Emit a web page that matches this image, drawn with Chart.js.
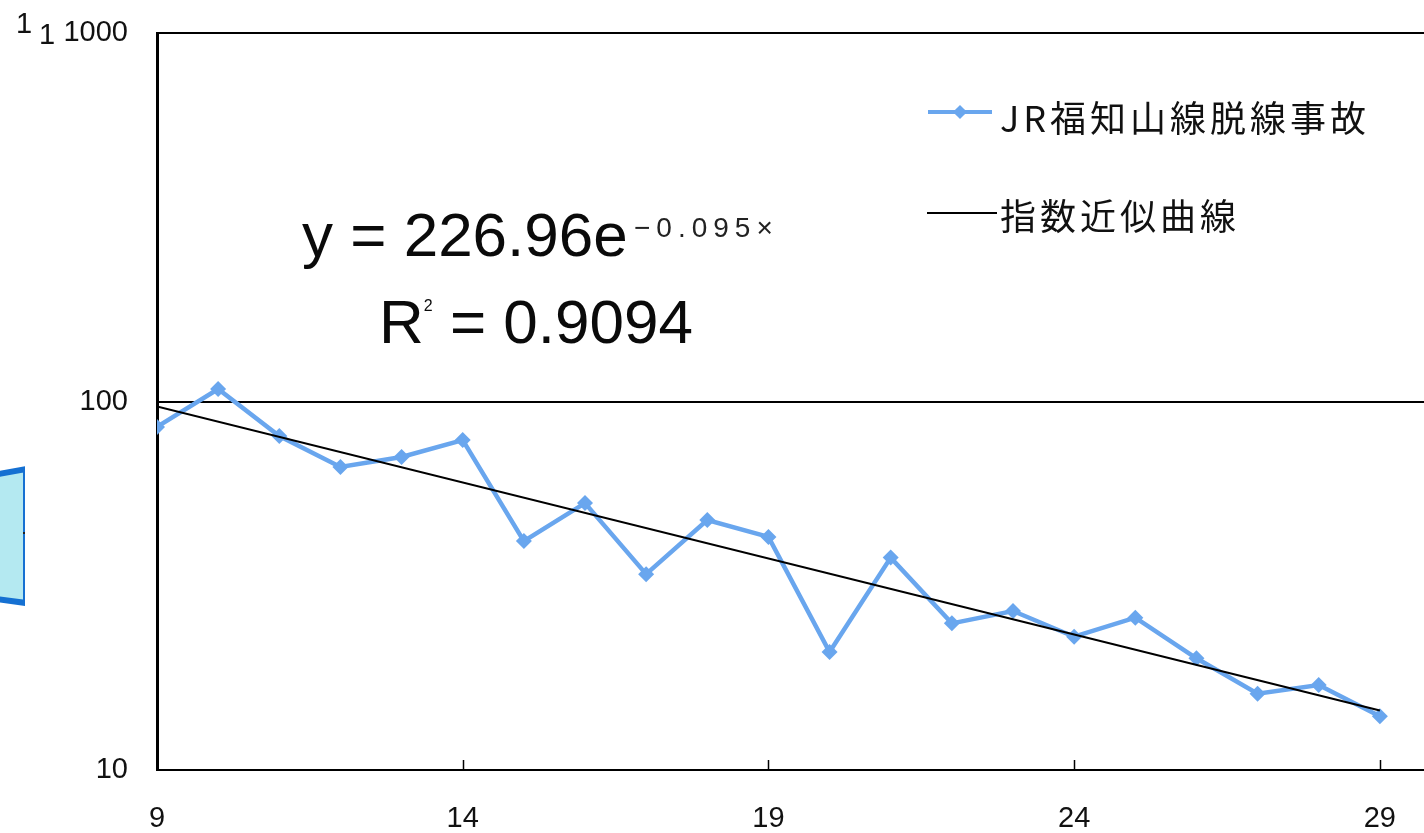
<!DOCTYPE html>
<html lang="ja">
<head>
<meta charset="utf-8">
<script src="https://cdn.jsdelivr.net/npm/chart.js@4.4.1/dist/chart.umd.min.js"></script>
<style>
  body { margin: 0; background: #fff; overflow: hidden; width: 1424px; height: 833px; position: relative; }
  #wrap { position: absolute; left: 0; top: 0; width: 1450px; height: 833px; }
  .txt { position: absolute; white-space: nowrap; color: #000; }
  .tick { font-family: 'Liberation Sans Narrow', 'Liberation Sans', sans-serif; font-size: 29px; line-height: 1; color: #111; }
  .eq { font-family: 'Liberation Sans', Arial, sans-serif; font-size: 62px; line-height: 1; color: #0a0a0a; }
  .sup { font-family: 'Liberation Sans', sans-serif; font-size: 28px; line-height: 1; letter-spacing: 6px; color: #222; }
  .leg { font-family: 'Noto Sans CJK JP', sans-serif; font-size: 36px; line-height: 1; letter-spacing: 4px; color: #111; }
</style>
</head>
<body>
<div id="wrap"><canvas id="grafico"></canvas></div>

<!-- numeri sparsi in alto a sinistra -->
<div class="txt tick" style="left:16px; top:9px;">1</div>
<div class="txt tick" style="left:39px; top:20px;">1</div>

<!-- riquadro azzurro tagliato sul bordo sinistro -->
<svg style="position:absolute; left:0; top:460px;" width="25" height="150">
  <polygon points="-40,21 26,9 26,143 -40,134" fill="#b4e9f1" stroke="#1570d2" stroke-width="6"/>
  <rect x="23" y="72" width="2" height="2" fill="#222"/>
</svg>

<!-- equazione della curva -->
<div class="txt eq" style="left:302px; top:204px;">y = 226.96e</div>
<div class="txt sup" style="left:634px; top:214px;">&minus;0.095&times;</div>
<div class="txt eq" style="left:379px; top:291px;">R<span style="font-size:16px; vertical-align:32px;">2</span> = 0.9094</div>

<!-- legenda -->
<div style="position:absolute; left:928px; top:110px; width:64px; height:4px; background:#69a6ee;"></div>
<div style="position:absolute; left:955px; top:107px; width:10px; height:10px; background:#69a6ee; transform:rotate(45deg);"></div>
<div class="txt leg" style="left:1000px; top:98px;">JR福知山線脱線事故</div>
<div style="position:absolute; left:927px; top:212px; width:70px; height:2px; background:#000;"></div>
<div class="txt leg" style="left:1000px; top:196px;">指数近似曲線</div>

<script>
// dati
const anni = [9, 10, 11, 12, 13, 14, 15, 16, 17, 18, 19, 20, 21, 22, 23, 24, 25, 26, 27, 28, 29];
const incidenti = [85.3, 108.1, 80.6, 66.4, 70.7, 78.6, 41.8, 53.0, 34.0, 47.7, 42.9, 20.9, 37.7, 25.0, 27.0, 23.0, 25.9, 20.1, 16.1, 17.0, 14.0];
// estremi della retta di tendenza (esponenziale, retta in scala log)
const tendenzaX = [9, 29];
const tendenzaY = [97, 14.5];
// etichette degli assi
const tickX = [9, 14, 19, 24, 29];
const tickY = [10, 100, 1000];

const fontTick = { family: "'Liberation Sans Narrow', 'Liberation Sans', sans-serif", size: 29 };

// piccole tacche interne sull'asse x
const tacche = {
  id: "tacche",
  afterDraw(chart) {
    const { ctx, chartArea, scales } = chart;
    ctx.save();
    ctx.strokeStyle = "#000";
    ctx.lineWidth = 1.5;
    tickX.slice(1).forEach((v) => {
      const px = Math.round(scales.x.getPixelForValue(v)) + 0.5;
      ctx.beginPath();
      ctx.moveTo(px, chartArea.bottom);
      ctx.lineTo(px, chartArea.bottom - 10);
      ctx.stroke();
    });
    ctx.restore();
  },
};

const ctx = document.getElementById("grafico").getContext("2d");
new Chart(ctx, {
  type: "line",
  data: {
    datasets: [
      {
        label: "指数近似曲線",
        data: tendenzaX.map((x, i) => ({ x: x, y: tendenzaY[i] })),
        borderColor: "#000",
        borderWidth: 2,
        pointRadius: 0,
        order: 0,
      },
      {
        label: "JR福知山線脱線事故",
        data: anni.map((x, i) => ({ x: x, y: incidenti[i] })),
        borderColor: "#69a6ee",
        backgroundColor: "#69a6ee",
        borderWidth: 4.5,
        pointStyle: "rectRot",
        pointRadius: 8,
        pointBorderWidth: 0,
        order: 1,
      },
    ],
  },
  options: {
    responsive: true,
    maintainAspectRatio: false,
    animation: false,
    devicePixelRatio: 1,
    layout: { padding: { top: 33, right: 9, left: 0, bottom: 0 } },
    plugins: { legend: { display: false }, tooltip: { enabled: false } },
    scales: {
      x: {
        type: "linear",
        min: 9,
        max: 30,
        afterBuildTicks: (scale) => { scale.ticks = tickX.map((v) => ({ value: v })); },
        afterFit: (scale) => { scale.height = 63; },
        grid: { display: false, drawTicks: false },
        border: { color: "#000", width: 2 },
        ticks: { font: fontTick, color: "#111", padding: 32, maxRotation: 0 },
      },
      y: {
        type: "logarithmic",
        min: 10,
        max: 1000,
        afterBuildTicks: (scale) => { scale.ticks = tickY.map((v) => ({ value: v })); },
        afterFit: (scale) => {
          scale.width = 157;
          scale.paddingTop = 0;
          scale.paddingBottom = 0;
        },
        grid: { color: "#000", lineWidth: 2, drawTicks: false },
        border: { color: "#000", width: 3 },
        ticks: { font: fontTick, color: "#111", padding: 29, callback: (v) => String(v) },
      },
    },
  },
  plugins: [tacche],
});
</script>
</body>
</html>
